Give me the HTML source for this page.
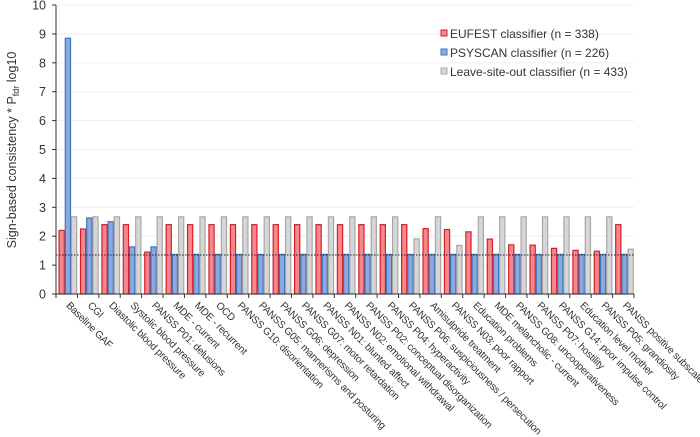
<!DOCTYPE html>
<html><head><meta charset="utf-8"><style>
body{margin:0;background:#fff;}
svg{display:block;font-family:"Liberation Sans",Arial,sans-serif;}
</style></head><body>
<svg id="chart" width="700" height="437" viewBox="0 0 700 437"></svg>
<script>
const categories=["Baseline GAF","CGI","Diastolic blood pressure","Systolic blood pressure","PANSS P01: delusions","MDE - current","MDE - recurrent","OCD","PANSS G10: disorientation","PANSS G05: mannerisms and posturing","PANSS G06: depression","PANSS G07: motor retardation","PANSS N01: blunted affect","PANSS N02: emotional withdrawal","PANSS P02: conceptual disorganization","PANSS P04: hyperactivity","PANSS P06: suspiciousness / persecution","Amisulpride treatment","PANSS N03: poor rapport","Education problems","MDE melancholic - current","PANSS G08: uncooperativeness","PANSS P07: hostility","PANSS G14: poor impulse control","Education level mother","PANSS P05: grandiosity","PANSS positive subscale"];
const eufest=[2.2,2.25,2.4,2.4,1.45,2.4,2.4,2.4,2.4,2.4,2.4,2.4,2.4,2.4,2.4,2.4,2.4,2.26,2.23,2.15,1.9,1.7,1.69,1.58,1.51,1.48,2.4];
const psyscan=[8.85,2.63,2.5,1.63,1.63,1.37,1.37,1.37,1.37,1.37,1.37,1.37,1.37,1.37,1.37,1.37,1.37,1.37,1.37,1.37,1.37,1.37,1.37,1.37,1.37,1.37,1.37];
const leaveout=[2.67,2.67,2.67,2.67,2.67,2.67,2.67,2.67,2.67,2.67,2.67,2.67,2.67,2.67,2.67,2.67,1.91,2.67,1.68,2.67,2.67,2.67,2.67,2.67,2.67,2.67,1.55];
const yTicks=[0,1,2,3,4,5,6,7,8,9,10];
const threshold=1.35;
const seriesNames=["EUFEST classifier (n = 338)","PSYSCAN classifier (n = 226)","Leave-site-out classifier (n = 433)"];

const NS="http://www.w3.org/2000/svg";
const svg=document.getElementById('chart');
const X0=56,X1=634,Y0=294,Y1=5;
const gw=(X1-X0)/categories.length;
const y=v=>Y0-(v/10)*(Y0-Y1);
const gx=i=>X0+i*gw;
function mk(t,a,p){const e=document.createElementNS(NS,t);for(const k in a)e.setAttribute(k,a[k]);(p||svg).appendChild(e);return e;}

yTicks.forEach(t=>{
  if(t>0){const g=mk('line',{x1:X0,x2:X1,y1:y(t),y2:y(t),stroke:'#eeeeee','stroke-width':1});
  
  }
  const l=mk('text',{x:46,y:y(t)+4.5,'text-anchor':'end','font-size':12.5,fill:'#333'});
  l.textContent=t;
  
  
});
const ya=mk('line',{x1:X0,x2:X0,y1:Y1,y2:Y0,stroke:'#333','stroke-width':1});


yTicks.forEach(t=>{mk('line',{x1:X0-4,x2:X0,y1:y(t),y2:y(t),stroke:'#333'});});

const fills=['#f4888c','#8aa9dc','#d6d6d6'],strokes=['#d42027','#3f72c0','#a8a8a8'];
const series=[eufest,psyscan,leaveout];
const bw=6.2;
categories.forEach((c,i)=>{
  series.forEach((s,k)=>{
    const x=gx(i)+2.6+k*bw;
    const b=mk('rect',{x:x+0.5,y:y(s[i]),width:bw-1,height:Y0-y(s[i]),fill:fills[k],stroke:strokes[k],'stroke-width':1.2});
    
    
  });
  const lx=gx(i)+gw/2-1,ly=Y0+12;
  const t=mk('text',{x:lx,y:ly,'font-size':10.2,'letter-spacing':'-0.2',fill:'#333',transform:`rotate(45 ${lx} ${ly})`});
  t.textContent=c;
  
  
});
for(let i=0;i<=categories.length;i++){mk('line',{x1:gx(i),x2:gx(i),y1:Y0,y2:Y0+4,stroke:'#333'});}
const xa=mk('line',{x1:X0,x2:X1,y1:Y0,y2:Y0,stroke:'#333','stroke-width':1});


const th=mk('line',{x1:X0,x2:X1,y1:y(threshold),y2:y(threshold),stroke:'#222','stroke-width':1,'stroke-dasharray':'1.5,1.5'});



const yt=mk('text',{x:0,y:0,'font-size':12.5,fill:'#333','text-anchor':'middle',transform:'translate(16,150) rotate(-90)'});
yt.innerHTML='Sign-based consistency * P<tspan font-size="9" dy="3">fdr</tspan><tspan dy="-3"> log10</tspan>';



seriesNames.forEach((n,k)=>{
  const yy=34+k*19;
  const r=mk('rect',{x:441,y:yy-4,width:6,height:6,fill:fills[k],stroke:strokes[k]});
  
  
  const t=mk('text',{x:450,y:yy+4,'font-size':12,fill:'#333'});
  t.textContent=n;
  
  
});
</script>
</body></html>
